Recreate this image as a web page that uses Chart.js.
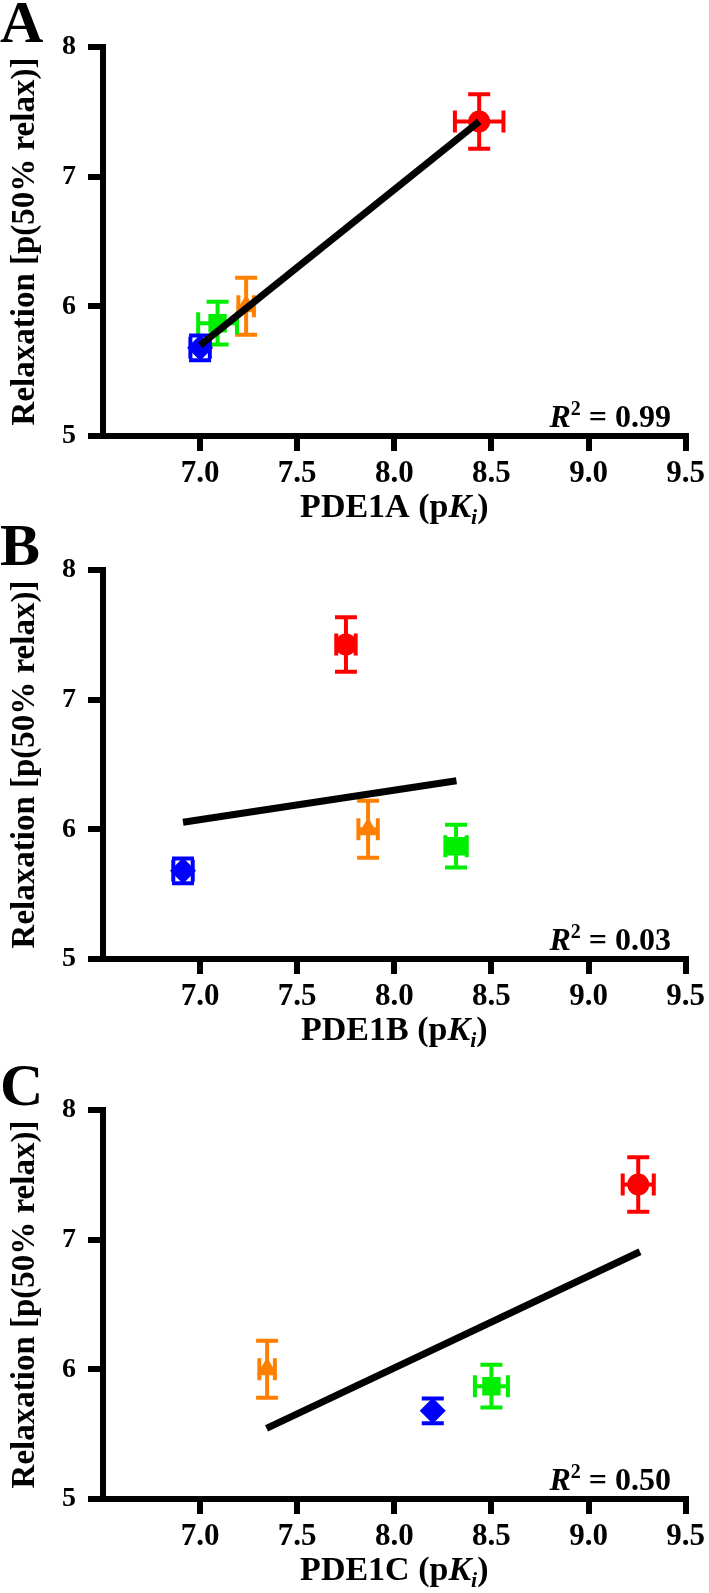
<!DOCTYPE html>
<html>
<head>
    <title>PDE1 pKi vs relaxation</title>
    <script src="https://cdn.jsdelivr.net/npm/chart.js"></script>
    <style>
        body {
            margin: 0;
            background: #fff;
            overflow: hidden;
        }
        .panel {
            position: absolute;
            left: 0;
            width: 709px;
            height: 530px;
        }
    </style>
</head>
<body>
    <div class="panel" style="top: 0px;"><canvas id="chartA"></canvas></div>
    <div class="panel" style="top: 523px;"><canvas id="chartB"></canvas></div>
    <div class="panel" style="top: 1063px;"><canvas id="chartC"></canvas></div>

    <script>
        // compounds, in the order red, orange, green, blue
        const relax = [7.425, 6.0, 5.87, 5.68];
        const relaxErr = [0.21, 0.22, 0.165, 0.095];

        const pde1a = [8.437, 7.237, 7.09, 7.0];
        const pde1aErr = [0.125, 0.04, 0.10, 0.05];
        const pde1b = [7.751, 7.865, 8.318, 6.912];
        const pde1bErr = [0.05, 0.05, 0.055, 0.05];
        const pde1c = [9.256, 7.345, 8.50, 8.198];
        const pde1cErr = [0.08, 0.04, 0.085, 0];

        // regression line end points [x, y]
        const fitA = [[7.0, 5.70], [8.437, 7.426]];
        const fitB = [[6.912, 6.055], [8.32, 6.375]];
        const fitC = [[7.342, 5.545], [9.265, 6.907]];

        const r2 = ['0.99', '0.03', '0.50'];
        const xTicks = [7.0, 7.5, 8.0, 8.5, 9.0, 9.5];
        const yTicks = [5, 6, 7, 8];

        const colors = ['#ff0000', '#ff8000', '#00ee00', '#0000ff'];
        const shapes = ['circle', 'triangle', 'rect', 'rectRot'];
        const sizes = [11, 12, 13, 13];

        const serif = '"Liberation Serif", "Times New Roman", serif';

        // error bars, drawn through the chart scales
        const errorBars = {
            id: 'errorBars',
            beforeDatasetsDraw(chart) {
                const ctx = chart.ctx;
                const xs = chart.scales.x, ys = chart.scales.y;
                chart.data.datasets.forEach(ds => {
                    if (!ds.errY) return;
                    ds.data.forEach((p, j) => {
                        ctx.save();
                        ctx.strokeStyle = ds.borderColor;
                        ctx.lineWidth = 4;
                        const cx = xs.getPixelForValue(p.x);
                        const cy = ys.getPixelForValue(p.y);
                        const cap = 11;
                        if (ds.errY[j] > 0) {
                            const t = ys.getPixelForValue(p.y + ds.errY[j]);
                            const b = ys.getPixelForValue(p.y - ds.errY[j]);
                            ctx.beginPath();
                            ctx.moveTo(cx, t); ctx.lineTo(cx, b);
                            ctx.moveTo(cx - cap, t); ctx.lineTo(cx + cap, t);
                            ctx.moveTo(cx - cap, b); ctx.lineTo(cx + cap, b);
                            ctx.stroke();
                        }
                        if (ds.errX[j] > 0) {
                            const l = xs.getPixelForValue(p.x - ds.errX[j]);
                            const r = xs.getPixelForValue(p.x + ds.errX[j]);
                            ctx.beginPath();
                            ctx.moveTo(l, cy); ctx.lineTo(r, cy);
                            ctx.moveTo(l, cy - cap); ctx.lineTo(l, cy + cap);
                            ctx.moveTo(r, cy - cap); ctx.lineTo(r, cy + cap);
                            ctx.stroke();
                        }
                        ctx.restore();
                    });
                });
            }
        };

        function drawParts(ctx, parts, x, y, align) {
            let w = 0;
            parts.forEach(p => { ctx.font = p[1]; w += ctx.measureText(p[0]).width; });
            let cx = align === 'right' ? x - w : (align === 'center' ? x - w / 2 : x);
            parts.forEach(p => {
                ctx.font = p[1];
                ctx.fillText(p[0], cx, y + (p[2] || 0));
                cx += ctx.measureText(p[0]).width;
            });
        }

        // panel letter, x title with italic K and subscript i, R squared
        const labels = {
            id: 'labels',
            afterDraw(chart, args, opts) {
                const ctx = chart.ctx;
                const area = chart.chartArea;
                ctx.save();
                ctx.fillStyle = '#000';
                ctx.textBaseline = 'alphabetic';
                ctx.textAlign = 'left';
                ctx.font = 'bold 60px ' + serif;
                ctx.fillText(opts.letter, 0, 42);

                drawParts(ctx, [
                    [opts.gene + ' (p', 'bold 34px ' + serif],
                    ['K', 'italic bold 34px ' + serif],
                    ['i', 'italic bold 22px ' + serif, 7],
                    [')', 'bold 34px ' + serif]
                ], (area.left + area.right) / 2, area.bottom + 81, 'center');

                drawParts(ctx, [
                    ['R', 'italic bold 32px ' + serif],
                    ['2', 'bold 20px ' + serif, -12],
                    [' = ' + opts.r2, 'bold 32px ' + serif]
                ], 671, area.bottom - 9, 'right');
                ctx.restore();
            }
        };

        function makePanel(id, letter, gene, xs, xErr, fit, r2text) {
            const datasets = [{
                label: 'fit',
                data: fit.map(p => ({x: p[0], y: p[1]})),
                showLine: true,
                borderColor: '#000',
                borderWidth: 7,
                pointRadius: 0,
                order: 0
            }];
            for (let i = 0; i < 4; i++) {
                datasets.push({
                    label: 'compound ' + (i + 1),
                    data: [{x: xs[i], y: relax[i]}],
                    errX: [xErr[i]],
                    errY: [relaxErr[i]],
                    pointStyle: shapes[i],
                    pointRadius: sizes[i],
                    backgroundColor: colors[i],
                    borderColor: colors[i],
                    borderWidth: 0,
                    order: 1
                });
            }

            new Chart(document.getElementById(id), {
                type: 'scatter',
                data: { datasets: datasets },
                plugins: [errorBars, labels],
                options: {
                    responsive: true,
                    maintainAspectRatio: false,
                    animation: false,
                    devicePixelRatio: 1,
                    layout: { autoPadding: false, padding: { top: 47, right: 22, bottom: 0, left: 0 } },
                    plugins: {
                        legend: { display: false },
                        tooltip: { enabled: false },
                        labels: { letter: letter, gene: gene, r2: r2text }
                    },
                    scales: {
                        x: {
                            type: 'linear',
                            min: 6.5,
                            max: 9.5,
                            afterFit: s => { s.height = 94; },
                            afterBuildTicks: s => { s.ticks = xTicks.map(v => ({ value: v })); },
                            border: { display: true, color: '#000', width: 6 },
                            grid: { drawOnChartArea: false, tickLength: 15, lineWidth: 6, tickWidth: 6, color: '#000', tickColor: '#000' },
                            ticks: {
                                color: '#000',
                                padding: 4,
                                font: { family: serif, size: 31, weight: 'bold' },
                                callback: v => Number(v).toFixed(1)
                            }
                        },
                        y: {
                            type: 'linear',
                            min: 5,
                            max: 8,
                            afterFit: s => { s.width = 103; },
                            afterBuildTicks: s => { s.ticks = yTicks.map(v => ({ value: v })); },
                            border: { display: true, color: '#000', width: 6 },
                            grid: { drawOnChartArea: false, tickLength: 15, lineWidth: 6, tickWidth: 6, color: '#000', tickColor: '#000' },
                            ticks: {
                                color: '#000',
                                padding: 12,
                                font: { family: serif, size: 28, weight: 'bold' },
                                callback: v => String(v)
                            },
                            title: {
                                display: true,
                                text: 'Relaxation [p(50% relax)]',
                                color: '#000',
                                padding: { top: 6, bottom: 0 },
                                font: { family: serif, size: 33, weight: 'bold' }
                            }
                        }
                    }
                }
            });
        }

        makePanel('chartA', 'A', 'PDE1A', pde1a, pde1aErr, fitA, r2[0]);
        makePanel('chartB', 'B', 'PDE1B', pde1b, pde1bErr, fitB, r2[1]);
        makePanel('chartC', 'C', 'PDE1C', pde1c, pde1cErr, fitC, r2[2]);
    </script>
</body>
</html>
